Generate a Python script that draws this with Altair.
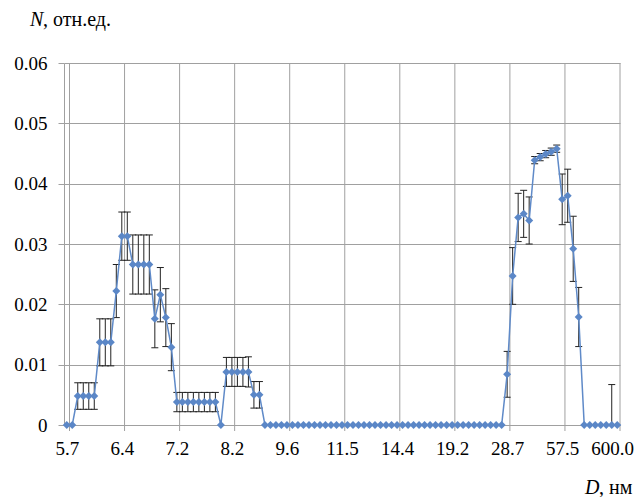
import altair as alt
import pandas as pd

# ---- data ----
tick_labels = ["5.7", "6.4", "7.2", "8.2", "9.6", "11.5", "14.4", "19.2", "28.7", "57.5", "600.0"]
tick_step = 10
y_ticks = [0, 0.01, 0.02, 0.03, 0.04, 0.05, 0.06]

values = [
    0, 0,
    0.0048, 0.0048, 0.0048, 0.0048,
    0.0137, 0.0137, 0.0137,
    0.0222,
    0.0313, 0.0313,
    0.0266, 0.0266, 0.0266, 0.0266,
    0.0176, 0.0216, 0.0178, 0.0129,
    0.0038, 0.0038, 0.0038, 0.0038, 0.0038, 0.0038, 0.0038, 0.0038,
    0,
    0.0088, 0.0088, 0.0088, 0.0088, 0.0088,
    0.0050, 0.0050,
    0, 0, 0, 0, 0, 0, 0, 0, 0, 0, 0,
    0, 0, 0, 0, 0, 0, 0, 0, 0, 0, 0,
    0, 0, 0, 0, 0, 0, 0, 0, 0, 0, 0,
    0, 0, 0, 0, 0, 0, 0, 0, 0, 0, 0,
    0.0084, 0.0247, 0.0344, 0.0350, 0.0339,
    0.0439, 0.0444, 0.0449, 0.0453, 0.0458,
    0.0374, 0.0380, 0.0292, 0.0179,
    0, 0, 0, 0, 0, 0, 0,
]

errors = [
    0, 0,
    0.0022, 0.0022, 0.0022, 0.0022,
    0.0039, 0.0039, 0.0039,
    0.0044,
    0.0040, 0.0040,
    0.0049, 0.0049, 0.0049, 0.0049,
    0.0048, 0.0045, 0.0048, 0.0039,
    0.0016, 0.0016, 0.0016, 0.0016, 0.0016, 0.0016, 0.0016, 0.0016,
    0,
    0.0024, 0.0024, 0.0024, 0.0024, 0.0025,
    0.0022, 0.0022,
    0, 0, 0, 0, 0, 0, 0, 0, 0, 0, 0,
    0, 0, 0, 0, 0, 0, 0, 0, 0, 0, 0,
    0, 0, 0, 0, 0, 0, 0, 0, 0, 0, 0,
    0, 0, 0, 0, 0, 0, 0, 0, 0, 0, 0,
    0.0038, 0.0047, 0.0040, 0.0039, 0.0039,
    0.0006, 0.0006, 0.0006, 0.0006, 0.0006,
    0.0042, 0.0044, 0.0054, 0.0049,
    0, 0, 0, 0, 0, 0.0067, 0,
]

n = len(values)
df = pd.DataFrame({"i": list(range(n)), "v": values, "e": errors})
df["lo"] = df["v"] - df["e"]
df["hi"] = df["v"] + df["e"]
err_df = df[df["e"] > 0].reset_index(drop=True)
ticks_df = pd.DataFrame({"t": [k * tick_step for k in range(len(tick_labels))]})
last_tick = int(ticks_df["t"].max())

# ---- styling ----
W, H = 556, 362
FONT = "Liberation Serif"
GRID = "#a0a0a0"
BLUE_LINE = "#5f8ac8"
BLUE_PT = "#5b87c7"
ERR = "#222222"

label_expr = "[" + ",".join("'%s'" % s for s in tick_labels) + "][round(datum.value/%d)]" % tick_step

x_scale = alt.Scale(domain=[-0.5, n - 0.5], nice=False, zero=False)
y_scale = alt.Scale(domain=[0, 0.06], nice=False, zero=True)

x_axis = alt.Axis(
    values=ticks_df["t"].tolist(), labelExpr=label_expr, grid=False, ticks=False,
    domain=True, domainColor=GRID, domainWidth=1, labelFont=FONT, labelFontSize=19,
    labelColor="black", labelPadding=14, title=None, labelFlush=False, labelOverlap=False,
    labelOffset={"condition": {"test": "datum.value == %d" % last_tick, "value": -5}, "value": 0},
)
y_axis = alt.Axis(
    values=y_ticks, labelExpr="datum.value == 0 ? '0' : format(datum.value, '.2f')",
    grid=True, gridColor=GRID, gridWidth=1, tickColor=GRID, tickSize=6, domainColor=GRID,
    labelFont=FONT, labelFontSize=19, labelColor="black", labelPadding=11, title=None,
)

X = lambda f: alt.X(f, scale=x_scale, axis=x_axis)
Y = lambda f: alt.Y(f, scale=y_scale, axis=y_axis)

grid = alt.Chart(ticks_df).transform_calculate(gx="datum.t + 0.5").mark_rule(
    color=GRID, strokeWidth=1
).encode(x=X("gx:Q"), y=alt.value(0), y2=alt.value(H + 6))

err_rule = alt.Chart(err_df).mark_rule(color=ERR, strokeWidth=1, clip=True).encode(
    x=X("i:Q"), y=Y("lo:Q"), y2="hi:Q"
)
err_caps = alt.Chart(err_df).transform_fold(["lo", "hi"], as_=["k", "yv"]).mark_point(
    shape="M-1,0L1,0", size=49, filled=False, color=ERR, strokeWidth=1, opacity=1, clip=True
).encode(x=X("i:Q"), y=Y("yv:Q"))

line = alt.Chart(df).mark_line(color=BLUE_LINE, strokeWidth=1.5).encode(x=X("i:Q"), y=Y("v:Q"))
pts = alt.Chart(df).mark_point(
    shape="diamond", filled=True, size=64, color=BLUE_PT, opacity=1
).encode(x=X("i:Q"), y=Y("v:Q"))

one = pd.DataFrame({"a": [0]})
def txt(s, x, y, italic=False):
    return alt.Chart(one).mark_text(
        text=s, font=FONT, fontSize=20, fontStyle="italic" if italic else "normal",
        align="left", baseline="alphabetic", color="black"
    ).encode(x=alt.value(x), y=alt.value(y))

titles = [
    txt("N", -34, -37, True), txt(", отн.ед.", -21, -37),
    txt("D", 521, 431, True), txt(", нм", 535, 431),
]

chart = alt.layer(grid, err_rule, err_caps, line, pts, *titles).properties(
    width=W, height=H,
    autosize=alt.AutoSizeParams(type="none"),
    padding={"left": 56, "top": 55, "right": 14, "bottom": 72},
    background="white",
).configure_view(stroke=None)

chart.save("out.html", embed_options={"renderer": "svg", "actions": False})
